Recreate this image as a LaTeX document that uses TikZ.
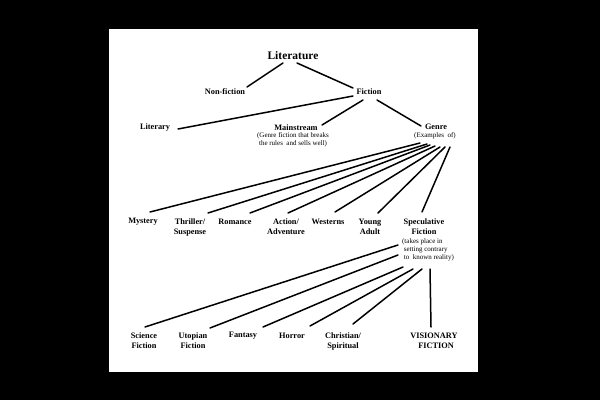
\documentclass[tikz,border=0pt]{standalone}
\usepackage{fontspec}
\setmainfont{Liberation Serif}
\usetikzlibrary{calc}
\begin{document}
\begin{tikzpicture}[x=1pt,y=-1pt,
  lbl/.style={font=\fontsize{8.3}{10}\selectfont\bfseries, align=center, inner sep=0pt},
  sublbl/.style={font=\fontsize{7}{8}\selectfont, align=center, inner sep=0pt},
  edge/.style={line width=1.5pt, line cap=round}]
\useasboundingbox (0,0) rectangle (600,400);
\fill[black] (0,0) rectangle (600,400);
\fill[white] (109,29) rectangle (478,372);

% level 0-2
\node[lbl, font=\fontsize{11.5}{13}\selectfont\bfseries] (lit) at (293,56) {Literature};
\node[lbl] (nonfic) at (225,92) {Non-fiction};
\node[lbl] (fic) at (369,92) {Fiction};
\node[lbl] (literary) at (155,128) {Literary};
\node[lbl] (main) at (296,128) {Mainstream};
\node[sublbl] (mainsub) at (293,140) {(Genre fiction that breaks\\the rules\ \ and sells well)};
\node[lbl] (genre) at (436,127) {Genre};
\node[sublbl] (genresub) at (435,136) {(Examples\ \ of)};

% genres
\node[lbl] (mystery) at (143,222) {Mystery};
\node[lbl] (thriller) at (190,227) {Thriller/\\Suspense};
\node[lbl] (romance) at (235,222) {Romance};
\node[lbl] (action) at (286,227) {Action/\\Adventure};
\node[lbl] (westerns) at (328,222) {Westerns};
\node[lbl] (young) at (370,227) {Young\\Adult};
\node[lbl] (spec) at (424,227) {Speculative\\Fiction};
\node[sublbl, align=left] (specsub) at (428,250) {(takes place in\\\ setting contrary\\\ to\ \ known reality)};

% speculative children
\node[lbl] (scifi) at (144,341) {Science\\Fiction};
\node[lbl] (utopian) at (193,341) {Utopian\\Fiction};
\node[lbl] (fantasy) at (243,336) {Fantasy};
\node[lbl] (horror) at (292,336) {Horror};
\node[lbl] (christian) at (343,341) {Christian/\\Spiritual};
\node[lbl] (visionary) at (434,341) {VISIONARY\\\ \ FICTION};

% connectors
\draw[edge] ($(lit)+(-10,7)$) -- ($(nonfic)+(22,-5)$);
\draw[edge] ($(lit)+(4,7)$) -- ($(fic)+(-16,-4)$);
\draw[edge] ($(fic)+(-16,4)$) -- ($(literary)+(23,1)$);
\draw[edge] ($(fic)+(-6,8)$) -- ($(main)+(26,-3)$);
\draw[edge] ($(fic)+(8,8)$) -- ($(genre)+(-15,-1)$);

\draw[edge] ($(genresub)+(-15,7)$) -- ($(mystery)+(7,-10)$);
\draw[edge] ($(genresub)+(-8,8)$) -- ($(thriller)+(18,-14)$);
\draw[edge] ($(genresub)+(-5,9)$) -- ($(romance)+(15,-9)$);
\draw[edge] ($(genresub)+(0,10)$) -- ($(action)+(2,-14)$);
\draw[edge] ($(genresub)+(5,11)$) -- ($(westerns)+(7,-10)$);
\draw[edge] ($(genresub)+(10,11)$) -- ($(young)+(8,-14)$);
\draw[edge] ($(genresub)+(15,11)$) -- ($(spec)+(-2,-15)$);

\draw[edge] ($(specsub)+(-30,-5)$) -- ($(scifi)+(1,-14)$);
\draw[edge] ($(specsub)+(-30,5)$) -- ($(utopian)+(17,-13)$);
\draw[edge] ($(specsub)+(-25,17)$) -- ($(fantasy)+(20,-9)$);
\draw[edge] ($(specsub)+(-15,19)$) -- ($(horror)+(18,-10)$);
\draw[edge] ($(specsub)+(-6,19)$) -- ($(christian)+(10,-17)$);
\draw[edge] ($(specsub)+(2,19)$) -- ($(visionary)+(-3,-14)$);
\end{tikzpicture}
\end{document}
